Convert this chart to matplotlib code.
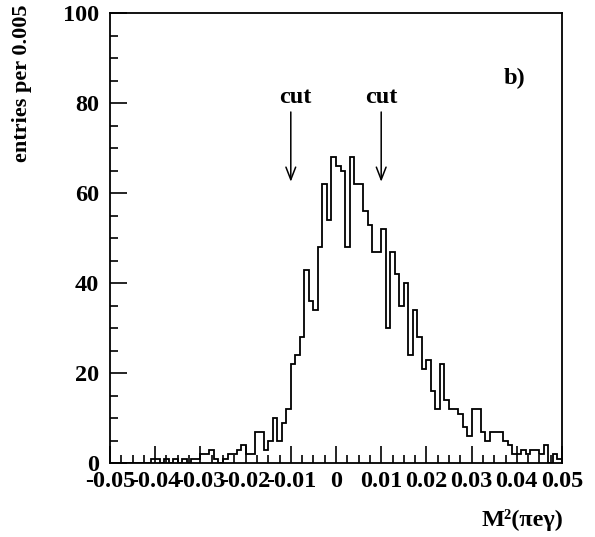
import numpy as np
import matplotlib
matplotlib.use("Agg")
import matplotlib.pyplot as plt
from matplotlib.ticker import MultipleLocator

# ---- data ----
bin_lo, bin_hi, n_bins = -0.05, 0.05, 100
counts = [0, 0, 0, 0, 0, 0, 0, 0, 0, 1,
          1, 0, 1, 0, 1, 0, 1, 0, 1, 1,
          2, 2, 3, 1, 0, 1, 2, 2, 3, 4,
          2, 2, 7, 7, 3, 5, 10, 5, 9, 12,
          22, 24, 28, 43, 36, 34, 48, 62, 54, 68,
          66, 65, 48, 68, 62, 62, 56, 53, 47, 47,
          52, 30, 47, 42, 35, 40, 24, 34, 28, 21,
          23, 16, 12, 22, 14, 12, 12, 11, 8, 6,
          12, 12, 7, 5, 7, 7, 7, 5, 4, 2,
          2, 3, 2, 3, 3, 2, 4, 0, 2, 1]
cut_positions = [-0.01, 0.01]
cut_labels = ["cut", "cut"]
x_ticks = [-0.05, -0.04, -0.03, -0.02, -0.01, 0, 0.01, 0.02, 0.03, 0.04, 0.05]
x_tick_labels = ["-0.05", "-0.04", "-0.03", "-0.02", "-0.01", "0",
                 "0.01", "0.02", "0.03", "0.04", "0.05"]
y_ticks = [0, 20, 40, 60, 80, 100]
panel_label = "b)"

plt.rcParams['font.family'] = ['Liberation Serif', 'DejaVu Serif']
plt.rcParams['font.weight'] = 'bold'

FS = 17.5

fig = plt.figure(figsize=(5.95, 5.37), dpi=100)
ax = fig.add_axes([110/595, 1-463/537, (562-110)/595, (463-13)/537])

edges = np.linspace(bin_lo, bin_hi, n_bins + 1)
ax.stairs(counts, edges, color='black', lw=1.3, baseline=0)

ax.set_xlim(bin_lo, bin_hi)
ax.set_ylim(0, 100)

ax.set_xticks(x_ticks)
ax.set_xticklabels(x_tick_labels)
ax.set_yticks(y_ticks)
ax.xaxis.set_minor_locator(MultipleLocator(0.0025))
ax.yaxis.set_minor_locator(MultipleLocator(5))
ax.tick_params(axis='both', which='major', direction='in', length=12, width=1.2,
               labelsize=FS, top=False, right=False)
ax.tick_params(axis='both', which='minor', direction='in', length=6, width=1.2,
               top=False, right=False)
ax.tick_params(axis='x', which='major', pad=6)
ax.tick_params(axis='y', which='major', pad=8)
for lab in ax.get_xticklabels() + ax.get_yticklabels():
    lab.set_fontweight('bold')
for sp in ax.spines.values():
    sp.set_linewidth(1.3)

# cut arrows
for xc, lbl, dx in zip(cut_positions, cut_labels, [0.001, 0.0]):
    ax.annotate("", xy=(xc, 62.5), xytext=(xc, 78),
                arrowprops=dict(arrowstyle='->,head_length=0.9,head_width=0.35',
                                color='black', lw=1.1, shrinkA=0, shrinkB=0))
    ax.text(xc + dx, 81.3, lbl, ha='center', va='center', fontsize=FS,
            fontweight='bold')

ax.text(0.0394, 85.5, panel_label, ha='center', va='center', fontsize=FS,
        fontweight='bold')

fig.text(563/595, 1-520/537, "M²(πeγ)", ha='right', va='center',
         fontsize=FS, fontweight='bold')
fig.text(22/595, 1-5/537, "entries per 0.005", rotation=90, ha='center',
         va='top', fontsize=16, fontweight='bold')

fig.savefig("out.png", dpi=100)
